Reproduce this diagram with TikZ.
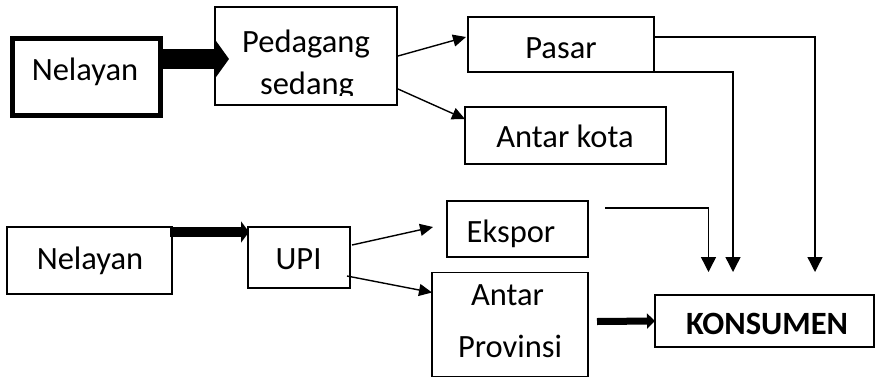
\documentclass[tikz,border=0pt]{standalone}
\usepackage{fontspec}
\setmainfont{Carlito}
\usetikzlibrary{arrows.meta,calc}
\begin{document}
\begin{tikzpicture}[x=1pt,y=-1pt,
  box/.style={draw,line width=1.2pt,inner sep=0pt,outer sep=0pt},
  lbl/.style={font=\fontsize{32.5}{39}\selectfont,inner sep=0pt,anchor=base},
  conn/.style={line width=1.4pt,-{Triangle[length=13pt,width=12pt]}},
  dn/.style={line width=1.4pt,-{Triangle[length=15pt,width=15pt]}},
]
\useasboundingbox (0,0) rectangle (875,378);
% boxes
\node[box,line width=5pt,minimum width=148pt,minimum height=77pt] (n1) at (86,77) {};
\node[box,minimum width=182pt,minimum height=98pt] (ped) at (306,56) {};
\node[box,minimum width=186pt,minimum height=55pt] (pasar) at (561,44.5) {};
\node[box,minimum width=201pt,minimum height=57pt] (kota) at (565.5,135.5) {};
\node[box,minimum width=165pt,minimum height=67pt] (n2) at (89.5,260.5) {};
\node[box,minimum width=102pt,minimum height=61pt] (upi) at (299,257.5) {};
\node[box,minimum width=141pt,minimum height=56pt] (ekspor) at (517.5,229) {};
\node[box,minimum width=156pt,minimum height=104pt] (prov) at (510,324.5) {};
\node[box,minimum width=219pt,minimum height=52pt] (kons) at (764.5,321) {};
% labels
\node[lbl] (t1) at (85,80) {Nelayan};
\begin{scope}
  \clip (ped.north west) rectangle ([yshift=10pt]ped.south east);
  \node[lbl] (t2a) at (306,52) {Pedagang};
  \node[lbl] (t2b) at (307,94) {sedang};
\end{scope}
\node[lbl] (t3) at (561,58) {Pasar};
\node[lbl] (t4) at (565,147) {Antar kota};
\node[lbl] (t5) at (90,269) {Nelayan};
\node[lbl] (t6) at (298.5,269) {UPI};
\node[lbl] (t7) at (511,242) {Ekspor};
\node[lbl] (t8a) at (507.5,305) {Antar};
\node[lbl] (t8b) at (510,357) {Provinsi};
\node[lbl,font=\fontsize{32.5}{39}\selectfont\bfseries] (t9) at (767,334) {KONSUMEN};
% free ends
\coordinate (c1) at (708.5,272);
\coordinate (c2) at (733,272);
\coordinate (c3) at (815,272);
\coordinate (e0) at (605,208);
% thick arrows
\draw[line width=20pt,-{Triangle[length=15pt,width=41pt]}]
  ([yshift=18pt]n1.east) -- ([xshift=14pt,yshift=-3pt]ped.west);
\draw[line width=10pt,-{Triangle[length=8pt,width=21pt]}]
  ([xshift=-2pt,yshift=-5pt]n2.north east) -- ([xshift=1pt,yshift=-5pt]upi.north west);
\draw[line width=7pt,-{Triangle[length=8pt,width=15pt]}]
  ([xshift=9pt,yshift=3pt]prov.east) -- (kons.west);
% thin arrows
\draw[conn] ([xshift=1pt]ped.east) -- ([xshift=-2pt,yshift=7.5pt]pasar.west);
\draw[conn] ([xshift=1pt,yshift=-33pt]ped.east) -- ([yshift=16.5pt]kota.west);
\draw[conn] ([xshift=2pt,yshift=12.5pt]upi.east) -- ([xshift=-14pt,yshift=2pt]ekspor.west);
\draw[conn] ([xshift=-3pt,yshift=-18.5pt]upi.east) -- ([yshift=-20pt]prov.north west);
% down connectors
\draw[dn] ([yshift=7.5pt]pasar.east) -| (c3);
\draw[dn] (pasar.south east) -| (c2);
\draw[dn] (e0) -| (c1);
\end{tikzpicture}
\end{document}
